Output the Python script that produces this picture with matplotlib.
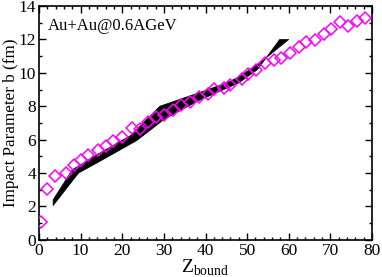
import matplotlib
matplotlib.use("Agg")
import matplotlib.pyplot as plt
from matplotlib.ticker import MultipleLocator

plt.rcParams["font.family"] = ["Liberation Serif", "DejaVu Serif"]
plt.rcParams["mathtext.fontset"] = "custom"
plt.rcParams["mathtext.rm"] = "Liberation Serif"

# simulation points (open diamonds)
z_bound = [0.4, 2.0, 3.8, 6.6, 8.4, 10.0, 11.8, 14.1, 16.2, 17.8, 20.0, 22.4, 24.2,
           26.2, 28.2, 30.0, 32.2, 34.2, 36.2, 38.4, 40.6, 42.0, 44.4, 46.0, 48.8,
           50.2, 52.2, 54.4, 56.4, 58.2, 60.4, 62.4, 64.2, 66.2, 68.4, 70.2, 72.2,
           74.2, 76.4, 78.4]
b_sim = [1.08, 3.05, 3.8, 4.0, 4.5, 4.78, 5.07, 5.38, 5.6, 5.95, 6.18, 6.68, 6.64,
         7.05, 7.33, 7.45, 7.75, 8.05, 8.23, 8.53, 8.73, 9.03, 9.12, 9.25, 9.65,
         9.95, 10.18, 10.62, 10.78, 10.92, 11.22, 11.57, 11.83, 11.97, 12.33, 12.6,
         13.02, 12.83, 13.12, 13.27]

# band (black area): upper and lower edges
band_up_x = [3.4, 8.0, 14.6, 22.0, 29.0, 38.3, 44.7, 48.0, 53.9, 60.0]
band_up_y = [2.4, 4.2, 5.2, 6.25, 8.0, 8.8, 9.37, 9.75, 10.77, 12.0]
band_lo_x = [3.4, 9.5, 14.6, 23.5, 30.0, 38.0, 48.0, 52.5, 57.8]
band_lo_y = [2.05, 4.0, 4.7, 5.95, 7.2, 8.3, 9.4, 10.2, 12.0]

fig = plt.figure(figsize=(3.82, 2.77), dpi=100)
ax = fig.add_axes([0.102, 0.134, 0.872, 0.844])

ax.fill(band_up_x + band_lo_x[::-1], band_up_y + band_lo_y[::-1],
        color="black", lw=0.5, zorder=2)
ax.plot(z_bound, b_sim, ls="none", marker="D", ms=5.8, mfc="none",
        mec="#ff00ff", mew=1.1, zorder=3)

ax.text(2.2, 12.8, "Au+Au@0.6AGeV", fontsize=12, va="center")

ax.set_xlim(0, 80)
ax.set_ylim(0, 14)
ax.xaxis.set_major_locator(MultipleLocator(10))
ax.xaxis.set_minor_locator(MultipleLocator(2))
ax.yaxis.set_major_locator(MultipleLocator(2))
ax.yaxis.set_minor_locator(MultipleLocator(1))
ax.tick_params(which="both", direction="in", top=True, right=True, labelsize=12.5, width=1)
ax.tick_params(which="major", length=5, pad=2)
ax.tick_params(which="minor", length=2.5)
for s in ax.spines.values():
    s.set_linewidth(1.2)

ax.set_xlabel(r"$\mathrm{Z}_{\mathrm{bound}}$", fontsize=14, labelpad=-1)
ax.set_ylabel("Impact Parameter b (fm)", fontsize=12.3, labelpad=0)

fig.savefig("out.png", dpi=100)
